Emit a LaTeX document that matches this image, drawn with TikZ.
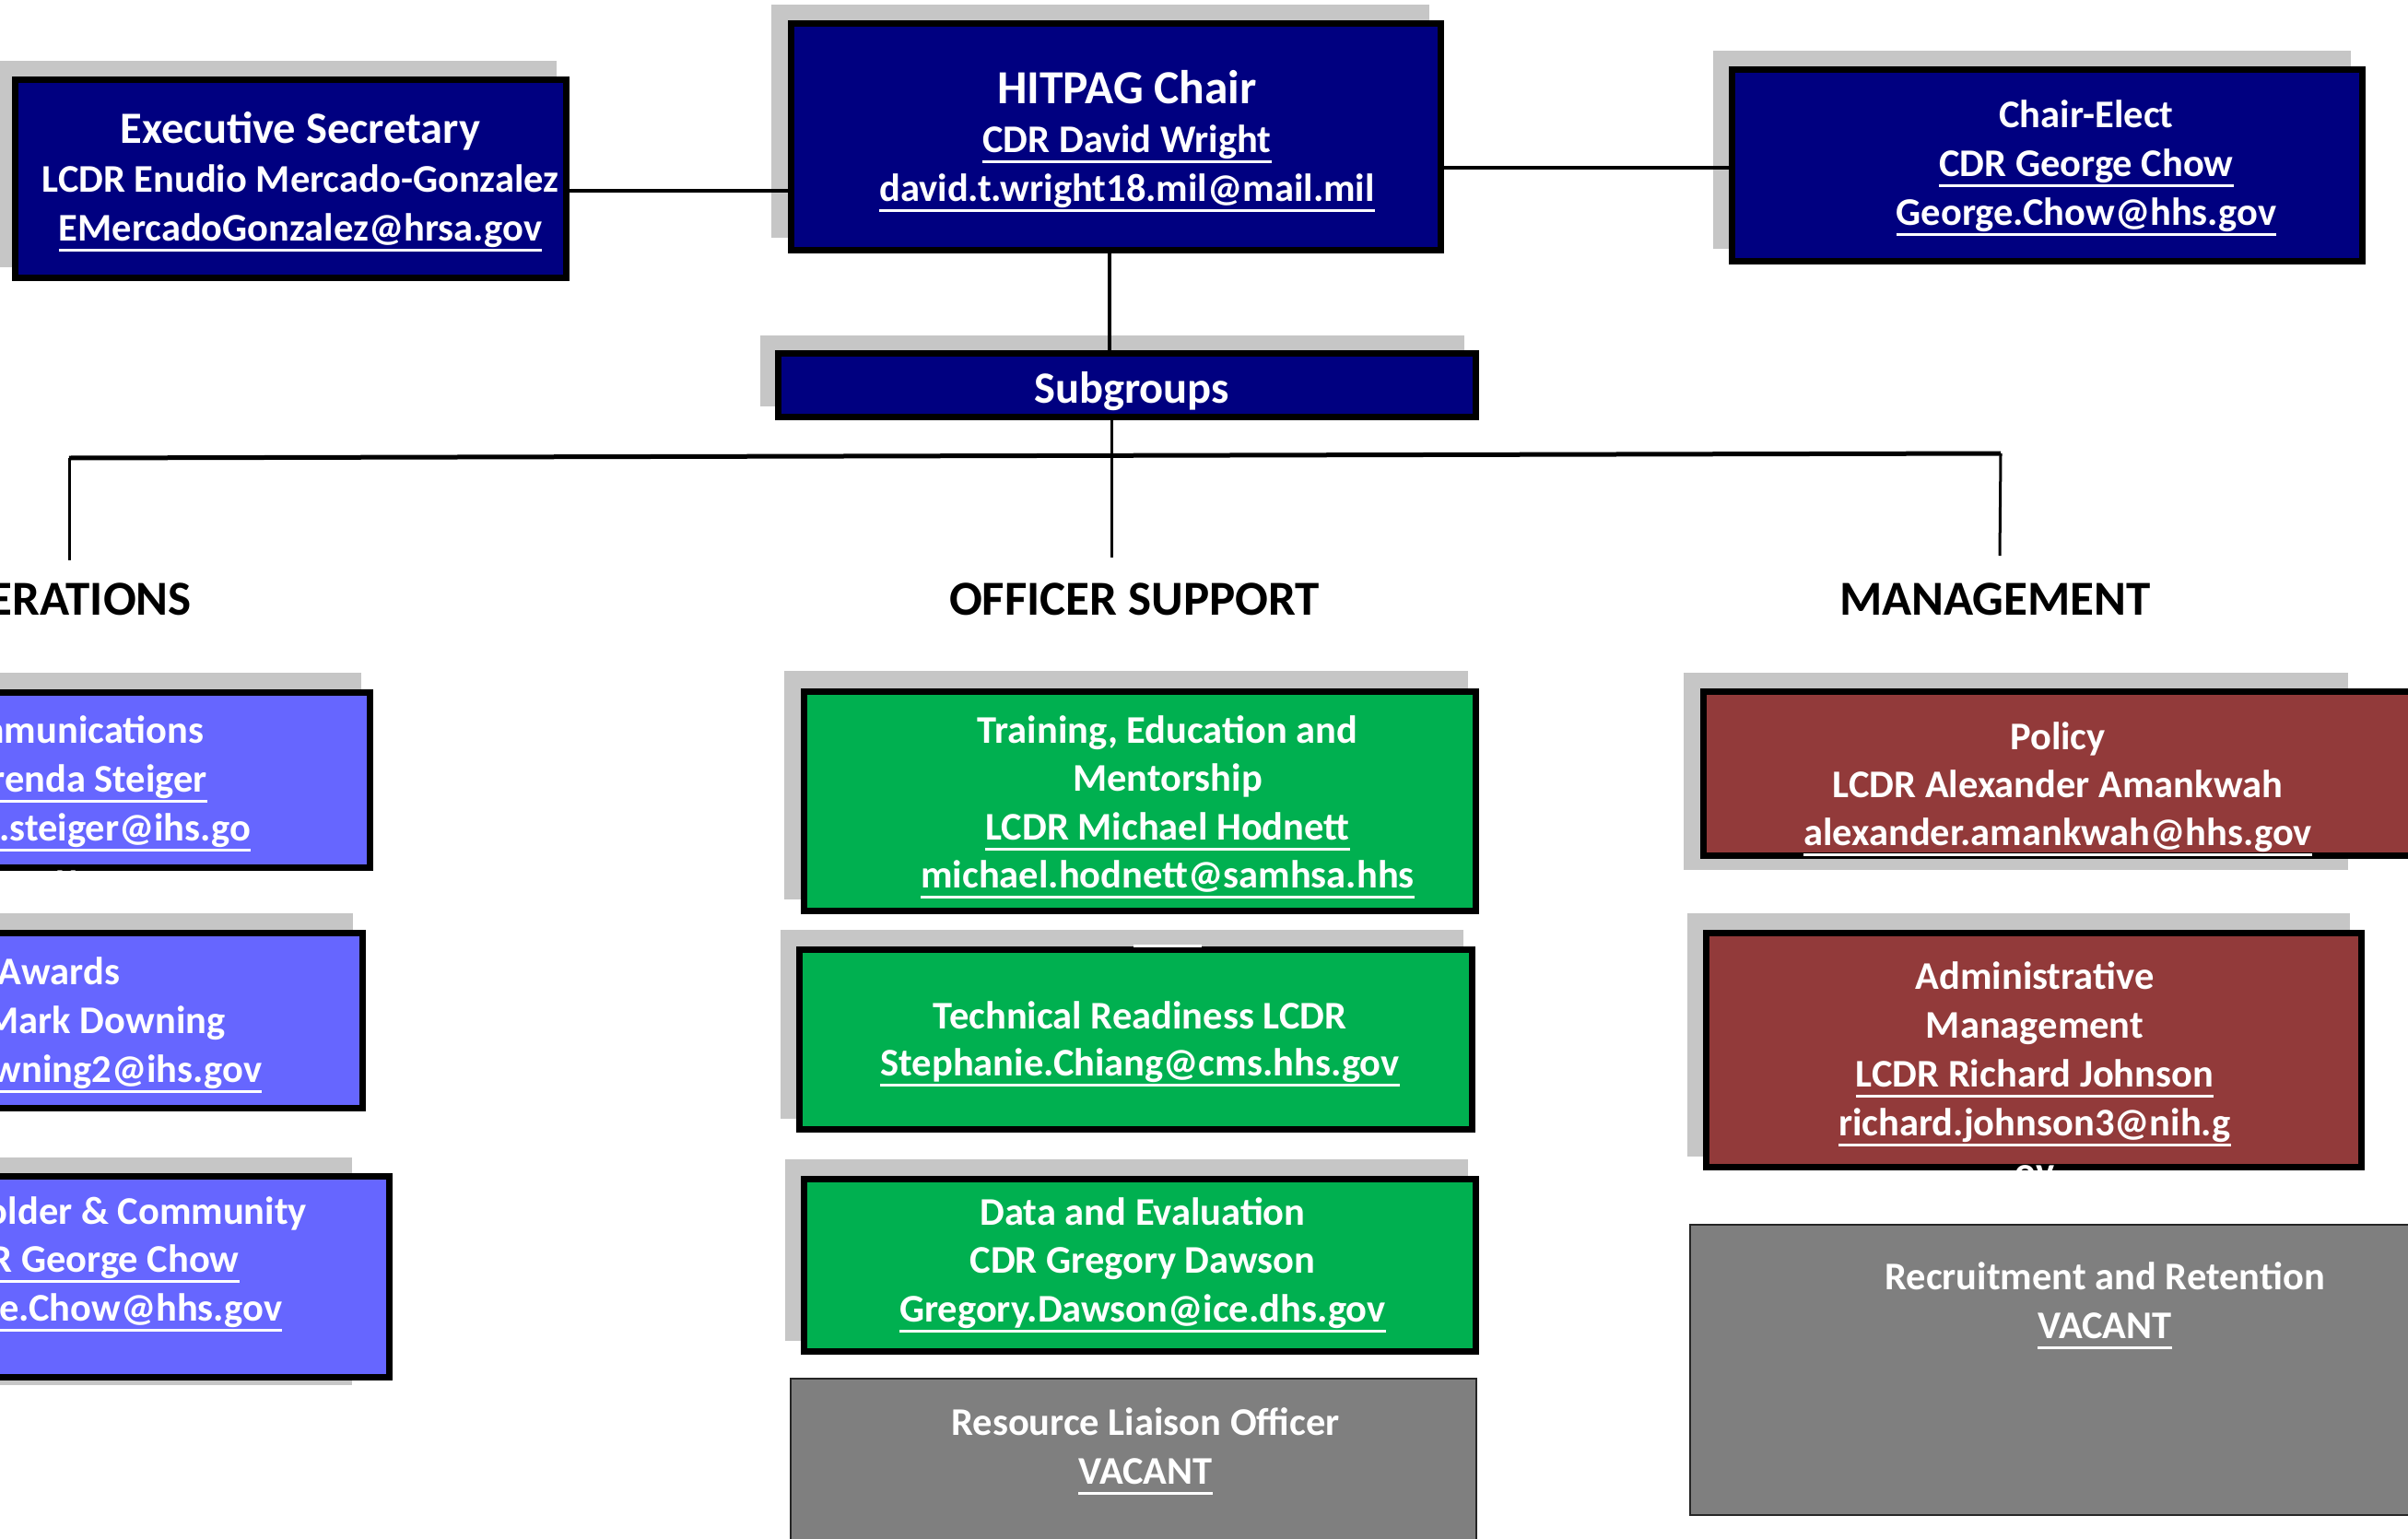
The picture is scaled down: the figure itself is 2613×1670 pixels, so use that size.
\documentclass[tikz,border=0pt]{standalone}
\usepackage{fontspec}
\setmainfont{Carlito}
\usetikzlibrary{fit,calc}
\definecolor{navybox}{HTML}{000080}
\definecolor{opsblue}{HTML}{6666FF}
\definecolor{offgreen}{HTML}{00B050}
\definecolor{mgmtred}{HTML}{923A3A}
\definecolor{vacgray}{HTML}{7F7F7F}
\definecolor{shadowgray}{HTML}{C6C6C6}
\definecolor{vacborder}{HTML}{262626}
\newcommand\undl[1]{\leavevmode\setbox0=\hbox{#1}\rlap{\rule[-11.5pt]{\wd0}{3pt}}\box0}
\newcommand\stack[2][53pt]{\vtop{\baselineskip=#1\lineskiplimit=-1000pt\lineskip=0pt\halign{\hfil##\hfil\cr#2\crcr}}}
\begin{document}
\begin{tikzpicture}[x=1pt,y=-1pt,
  shadowbox/.style={fill=shadowgray},
  box/.style={draw=black, line width=7pt, inner sep=-3.5pt},
  vacbox/.style={draw=vacborder, fill=vacgray, line width=2pt, inner sep=-1pt},
  txt/.style={text=white, font=\fontsize{42.5}{53}\selectfont\bfseries, inner sep=0pt, anchor=base},
  head/.style={text=black, font=\fontsize{53}{60}\selectfont\bfseries, inner sep=0pt, anchor=base},
  conn/.style={draw=black, line width=4pt},
  bus/.style={draw=black, line width=5pt},
  drop/.style={draw=black, line width=3pt}]
\useasboundingbox (0,0) rectangle (2613,1670);
\clip (0,0) rectangle (2613,1670);
\fill[white] (0,0) rectangle (2613,1670);

% shadows
\fill[shadowbox] (-10,66) rectangle (604,290);
\fill[shadowbox] (837,5) rectangle (1551,258);
\fill[shadowbox] (1859,55) rectangle (2551,270);
\fill[shadowbox] (825,364) rectangle (1589,441);
\fill[shadowbox] (-60,730) rectangle (392,935);
\fill[shadowbox] (-60,991) rectangle (383,1195);
\fill[shadowbox] (-60,1256) rectangle (382,1503);
\fill[shadowbox] (851,728) rectangle (1593,976);
\fill[shadowbox] (847,1009) rectangle (1588,1214);
\fill[shadowbox] (852,1258) rectangle (1593,1455);
\fill[shadowbox] (1827,730) rectangle (2548,944);
\fill[shadowbox] (1831,991) rectangle (2550,1255);

% connector points
\coordinate (busL) at (75,497);
\coordinate (busM) at (1206,494);
\coordinate (busR) at (2171,492);
\coordinate (opsEnd) at (75,608);
\coordinate (offEnd) at (1206,605);
\coordinate (mgmtEnd) at (2170,603);

% boxes
\node[box, fill=navybox, fit={(13,83) (618,305)}] (exec) {};
\node[box, fill=navybox, fit={(855,22) (1567,275)}] (chair) {};
\node[box, fill=navybox, fit={(1876,72) (2567,287)}] (elect) {};
\node[box, fill=navybox, fit={(841,380) (1605,456)}] (sub) {};

\node[box, fill=opsblue, fit={(-60,748) (405,945)}] (ops1) {};
\node[box, fill=opsblue, fit={(-60,1009) (397,1206)}] (ops2) {};
\node[box, fill=opsblue, fit={(-60,1273) (426,1498)}] (ops3) {};

\node[box, fill=offgreen, fit={(869,747) (1605,992)}] (tem) {};
\node[box, fill=offgreen, fit={(864,1027) (1601,1229)}] (tech) {};
\node[box, fill=offgreen, fit={(869,1276) (1605,1470)}] (data) {};
\node[vacbox, fit={(857,1495) (1603,1690)}] (rlo) {};

\node[box, fill=mgmtred, fit={(1845,747) (2630,932)}] (policy) {};
\node[box, fill=mgmtred, fit={(1848,1009) (2566,1270)}] (admin) {};
\node[vacbox, fit={(1833,1328) (2630,1645)}] (recruit) {};

% connectors
\draw[conn] ([yshift=-13pt]exec.east) -- ([yshift=-13pt]exec.east -| chair.west);
\draw[conn] ([yshift=-33.5pt]chair.east) -- ([yshift=-33.5pt]chair.east -| elect.west);
\draw[conn] ([xshift=-7pt]chair.south) -- ([xshift=-7pt]chair.south |- sub.north);
\draw[drop] ([xshift=-17pt]sub.south) -- (busM);
\draw[bus] (busL) -- (busR);
\draw[drop] (busL) -- (opsEnd);
\draw[drop] (busM) -- (offEnd);
\draw[drop] (busR) -- (mgmtEnd);

% headings
\node[head, anchor=base east] (opsH) at (208,667) {OPERATIONS};
\node[head] (offH) at (1231,667) {OFFICER SUPPORT};
\node[head] (mgmtH) at (2165,667) {MANAGEMENT};

% texts
\node[txt] (execT) at (326,155) {\stack{{\fontsize{48.5}{48.5}\selectfont Executive Secretary}\cr LCDR Enudio Mercado-Gonzalez\cr \undl{EMercadoGonzalez@hrsa.gov}}};
\node[txt] (chairT) at (1223,112) {\stack{{\fontsize{51.5}{51.5}\selectfont HITPAG Chair}\cr \undl{CDR David Wright}\cr \undl{david.t.wright18.mil@mail.mil}}};
\node[txt] (electT) at (2264,138) {\stack{Chair-Elect\cr \undl{CDR George Chow}\cr \undl{George.Chow@hhs.gov}}};
\node[txt, font=\fontsize{48.5}{53}\selectfont\bfseries] (subT) at (1228,437) {Subgroups};

\node[txt] (ops1T) at (73,806) {\stack{Communications\cr \undl{LT Brenda Steiger}\cr \undl{brenda.steiger@ihs.go}\cr \undl{v}}};
\node[txt] (ops2T) at (64,1068) {\stack{Awards\cr LCDR Mark Downing\cr \undl{mark.downing2@ihs.gov}}};
\node[txt] (ops3T) at (100,1328) {\stack[52.5pt]{Stakeholder \& Community\cr \undl{CDR George Chow}\cr \undl{George.Chow@hhs.gov}}};

\node[txt] (temT) at (1267,806) {\stack[52.5pt]{Training, Education and\cr Mentorship\cr \undl{LCDR Michael Hodnett}\cr \undl{michael.hodnett@samhsa.hhs}\cr \undl{\phantom{.gov}}}};
\node[txt] (techT) at (1237,1116) {\stack[51pt]{Technical Readiness LCDR\cr \undl{Stephanie.Chiang@cms.hhs.gov}}};
\node[txt] (dataT) at (1240,1329) {\stack[52.5pt]{Data and Evaluation\cr CDR Gregory Dawson\cr \undl{Gregory.Dawson@ice.dhs.gov}}};
\node[txt] (rloT) at (1243,1557) {\stack{Resource Liaison Officer\cr \undl{VACANT}}};

\node[txt] (policyT) at (2233,813) {\stack[52pt]{Policy\cr LCDR Alexander Amankwah\cr \undl{alexander.amankwah@hhs.gov}}};
\node[txt] (adminT) at (2208,1073) {\stack{Administrative\cr Management\cr \undl{LCDR Richard Johnson}\cr \undl{richard.johnson3@nih.g}\cr \undl{ov}}};
\node[txt] (recruitT) at (2284,1399) {\stack{Recruitment and Retention\cr \undl{VACANT}}};
\end{tikzpicture}
\end{document}
